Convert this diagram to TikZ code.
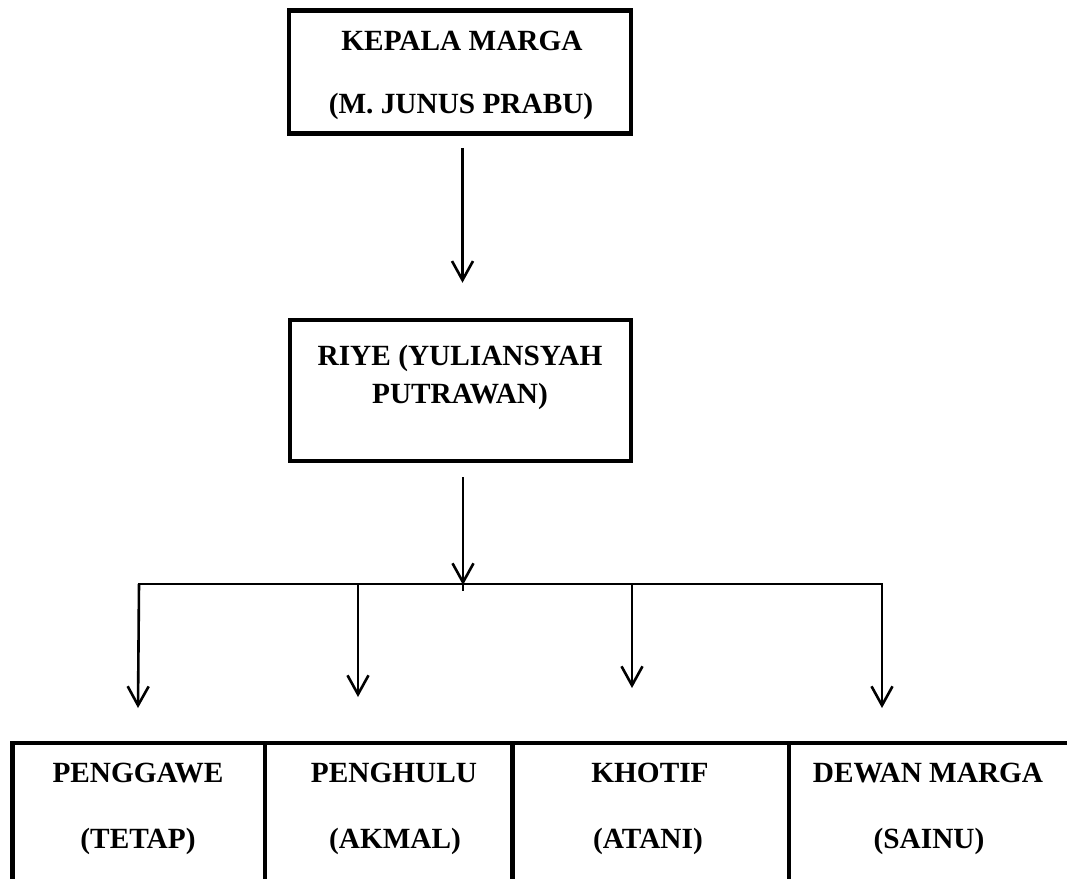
\documentclass[tikz,border=0pt]{standalone}
\usepackage{fontspec}
\setmainfont{Liberation Serif}
\usetikzlibrary{arrows.meta}
\tikzset{
  orgbox/.style={draw, line width=4.5pt, inner sep=0pt},
  lbl/.style={font=\fontsize{29.3}{34}\selectfont\bfseries, inner sep=0pt, anchor=base},
  cell/.style={inner sep=0pt, outer sep=0pt, minimum height=137pt},
  conn/.style={line width=2.6pt},
  arr/.style={conn, -{Straight Barb[length=19pt,width=21pt]}},
  tablerule/.style={line width=4.5pt, line join=miter}
}
\begin{document}
\begin{tikzpicture}[x=1pt,y=-1pt]
\useasboundingbox (0,0) rectangle (1067,878);

% top box
\node[orgbox, minimum width=342pt, minimum height=123pt] (kepala) at (460,72) {};
\node[lbl] (kepala1) at (462,50) {KEPALA MARGA};
\node[lbl] (kepala2) at (461,113) {(M. JUNUS PRABU)};

% second box
\node[orgbox, minimum width=341pt, minimum height=141pt] (riye) at (460.5,390.5) {};
\node[lbl] (riye1) at (460,365) {RIYE (YULIANSYAH};
\node[lbl] (riye2) at (460,403) {PUTRAWAN)};

% arrow 1
\draw[arr] ([xshift=2.5pt,yshift=-12pt]kepala.south) -- ([xshift=2pt,yshift=35pt]riye.north);

% bus
\coordinate (bus) at (463,584);
\coordinate (b1) at (139,584);
\coordinate (b2) at (358,584);
\coordinate (b3) at (632,584);
\coordinate (b4) at (882,584);
\draw[conn] ([xshift=2.5pt,yshift=-14pt]riye.south) -- ([yshift=-7pt]bus);
\draw[arr] ([xshift=2.5pt,yshift=-14pt]riye.south) -- ([yshift=-1pt]bus);
\draw[conn, line cap=rect] (b1) -- (b4);

% branch tips
\coordinate (t1) at (138,708);
\coordinate (t2) at (358,697);
\coordinate (t3) at (632,688);
\coordinate (t4) at (882,708);
\draw[arr] (b1) -- (t1);
\draw[arr] (b2) -- (t2);
\draw[arr] (b3) -- (t3);
\draw[arr] (b4) -- (t4);

% bottom table cells
\node[cell, minimum width=252.5pt] (c1) at (138.75,811.5) {};
\node[cell, minimum width=247.5pt] (c2) at (388.75,811.5) {};
\node[cell, minimum width=276.5pt] (c3) at (650.75,811.5) {};
\node[cell, minimum width=280pt] (c4) at (929,811.5) {};
\draw[tablerule] (c1.south west) -- (c1.north west) -- (c4.north east);
\draw[tablerule] (c2.north west) -- (c2.south west);
\draw[tablerule] (c3.north west) -- (c3.south west);
\draw[tablerule] (c4.north west) -- (c4.south west);

\node[lbl] (c1a) at (138,782) {PENGGAWE};
\node[lbl] (c1b) at (138,848) {(TETAP)};
\node[lbl] (c2a) at (394,782) {PENGHULU};
\node[lbl] (c2b) at (395,848) {(AKMAL)};
\node[lbl] (c3a) at (650,782) {KHOTIF};
\node[lbl] (c3b) at (648,848) {(ATANI)};
\node[lbl] (c4a) at (928,782) {DEWAN MARGA};
\node[lbl] (c4b) at (929,848) {(SAINU)};
\end{tikzpicture}
\end{document}
